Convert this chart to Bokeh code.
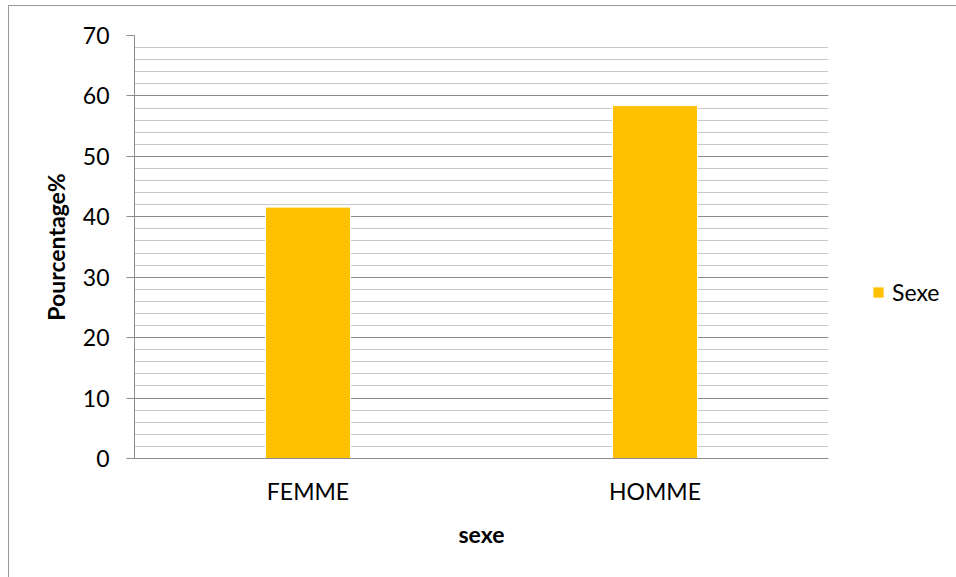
from bokeh.plotting import figure
from bokeh.models import (FactorRange, Range1d, SingleIntervalTicker, Legend,
                          LegendItem, InlineStyleSheet)
from bokeh.embed import file_html
from bokeh.resources import INLINE

# Data
categories = ["FEMME", "HOMME"]
percentages = [41.6, 58.4]
series_name = "Sexe"

FONT = "Lato"
FONT_SIZE = "23px"
BAR_COLOR = "#FFC000"

p = figure(
    frame_width=694, frame_height=423,
    x_range=FactorRange(*categories, range_padding=0),
    y_range=Range1d(0, 70),
    output_backend="svg", toolbar_location=None,
    min_border_left=134, min_border_right=128,
    min_border_top=35, min_border_bottom=119,
)
p.outline_line_color = None
p.background_fill_color = "white"
p.border_fill_color = "white"

bars = p.vbar(x=categories, top=percentages, width=0.245,
              fill_color=BAR_COLOR, line_color="white", line_width=1)

# y axis
p.yaxis.ticker = SingleIntervalTicker(interval=10, num_minor_ticks=5)
p.yaxis.axis_line_color = "#8c8c8c"
p.yaxis.major_tick_line_color = "#8c8c8c"
p.yaxis.major_tick_out = 8
p.yaxis.major_tick_in = 0
p.yaxis.minor_tick_line_color = None
p.yaxis.major_label_text_font = FONT
p.yaxis.major_label_text_font_size = FONT_SIZE
p.yaxis.major_label_text_color = "#000000"
p.yaxis.major_label_standoff = 17
p.yaxis.axis_label = "Pourcentage%"
p.yaxis.axis_label_text_font = FONT
p.yaxis.axis_label_text_font_size = FONT_SIZE
p.yaxis.axis_label_text_font_style = "bold"
p.yaxis.axis_label_text_color = "#000000"
p.yaxis.axis_label_standoff = 10

# x axis
p.xaxis.axis_line_color = "#8c8c8c"
p.xaxis.major_tick_line_color = None
p.xaxis.minor_tick_line_color = None
p.xaxis.major_label_text_font = FONT
p.xaxis.major_label_text_font_size = FONT_SIZE
p.xaxis.major_label_text_color = "#000000"
p.xaxis.major_label_standoff = 12
p.xaxis.axis_label = "sexe"
p.xaxis.axis_label_text_font = FONT
p.xaxis.axis_label_text_font_size = FONT_SIZE
p.xaxis.axis_label_text_font_style = "bold"
p.xaxis.axis_label_text_color = "#000000"
p.xaxis.axis_label_standoff = 12

# grid
p.xgrid.grid_line_color = None
p.ygrid.grid_line_color = "#8c8c8c"
p.ygrid.minor_grid_line_color = "#c8c8c8"

# legend in the right-hand panel
legend = Legend(items=[LegendItem(label=series_name, renderers=[bars])],
                location=(43, 152), orientation="vertical",
                glyph_width=14, glyph_height=14, label_standoff=7,
                padding=0, margin=0, border_line_color=None,
                background_fill_alpha=0,
                label_text_font=FONT, label_text_font_size=FONT_SIZE,
                label_text_color="#000000")
p.add_layout(legend, "right")

# thin frame around the chart area
p.stylesheets = [InlineStyleSheet(css="""
:host { position: relative; }
:host::after {
  content: ""; position: absolute; left: 8px; top: 5px; right: 0; bottom: 0;
  border-left: 1px solid #9a9a9a; border-top: 1px solid #9a9a9a;
  pointer-events: none; z-index: 5;
}
""")]

open("out.html", "w").write(file_html(p, INLINE))
